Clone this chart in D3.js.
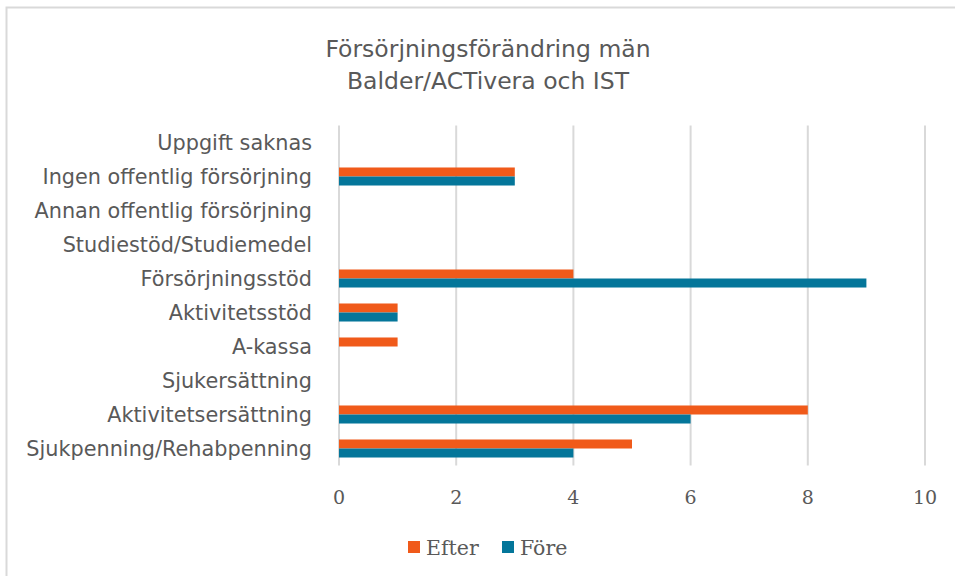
<!DOCTYPE html>
<html lang="sv">
<head>
    <meta charset="UTF-8">
    <title>Försörjningsförändring män</title>
    <script src="https://d3js.org/d3.v7.min.js"></script>
    <style>
        body { margin: 0; background: #fff; }
        .title { font-family: "DejaVu Sans", Verdana, sans-serif; font-size: 23.5px; fill: #595959; }
        .cat { font-family: "DejaVu Sans", Verdana, sans-serif; font-size: 20.8px; fill: #595959; }
        .tick-label { font-family: "DejaVu Serif", Georgia, serif; font-size: 19px; fill: #595959; }
        .legend text { font-family: "DejaVu Serif", Georgia, serif; font-size: 20.5px; fill: #595959; }
    </style>
</head>
<body>
<svg id="chart" width="955" height="576"></svg>
<script>
    const categories = [
        "Uppgift saknas",
        "Ingen offentlig försörjning",
        "Annan offentlig försörjning",
        "Studiestöd/Studiemedel",
        "Försörjningsstöd",
        "Aktivitetsstöd",
        "A-kassa",
        "Sjukersättning",
        "Aktivitetsersättning",
        "Sjukpenning/Rehabpenning"
    ];
    const efter = [0, 3, 0, 0, 4, 1, 1, 0, 8, 5];
    const fore  = [0, 3, 0, 0, 9, 1, 0, 0, 6, 4];
    const seriesNames = ["Efter", "Före"];
    const seriesColors = ["#F05A1A", "#04769A"];
    const xTicks = [0, 2, 4, 6, 8, 10];
    const titleLines = ["Försörjningsförändring män", "Balder/ACTivera och IST"];

    const svg = d3.select("#chart");

    // outer frame (only left/top edges fall inside the picture)
    svg.append("rect")
        .attr("x", 6.5).attr("y", 7.5)
        .attr("width", 1000).attr("height", 1000)
        .attr("fill", "none").attr("stroke", "#d9d9d9").attr("stroke-width", 2);

    const plot = {left: 339, right: 925, top: 125.5, bottom: 465.5};

    const x = d3.scaleLinear().domain([0, 10]).range([plot.left, plot.right]);
    const y0 = d3.scaleBand().domain(categories).range([plot.top, plot.bottom])
        .paddingInner(0.47).paddingOuter(0.235);
    const y1 = d3.scaleBand().domain(seriesNames).range([0, y0.bandwidth()]);

    // title
    svg.selectAll(".title").data(titleLines).enter().append("text")
        .attr("class", "title")
        .attr("x", 488).attr("y", (d, i) => 57 + i * 32)
        .attr("text-anchor", "middle")
        .text(d => d);

    // gridlines
    svg.selectAll(".grid").data(xTicks).enter().append("line")
        .attr("class", "grid")
        .attr("x1", d => x(d)).attr("x2", d => x(d))
        .attr("y1", plot.top).attr("y2", plot.bottom)
        .attr("stroke", "#d9d9d9").attr("stroke-width", 2);

    // tick labels
    svg.selectAll(".tick-label").data(xTicks).enter().append("text")
        .attr("class", "tick-label")
        .attr("x", d => x(d)).attr("y", 504)
        .attr("text-anchor", "middle")
        .text(d => d);

    // category labels
    svg.selectAll(".cat").data(categories).enter().append("text")
        .attr("class", "cat")
        .attr("x", 312)
        .attr("y", d => y0(d) - y0.step() * 0.235 + y0.step() / 2)
        .attr("dy", "0.35em")
        .attr("text-anchor", "end")
        .text(d => d);

    // bars
    const rows = categories.map((c, i) => ({cat: c, values: [efter[i], fore[i]]}));
    const groups = svg.selectAll(".row").data(rows).enter().append("g")
        .attr("transform", d => `translate(0,${y0(d.cat)})`);
    groups.selectAll("rect")
        .data(d => d.values.map((v, j) => ({name: seriesNames[j], value: v, color: seriesColors[j]})))
        .enter().append("rect")
        .attr("x", x(0))
        .attr("y", d => y1(d.name))
        .attr("width", d => x(d.value) - x(0))
        .attr("height", y1.bandwidth())
        .attr("fill", d => d.color);

    // legend
    const legend = svg.append("g").attr("class", "legend");
    const legendX = [408, 502];
    seriesNames.forEach((name, i) => {
        legend.append("rect")
            .attr("x", legendX[i]).attr("y", 541)
            .attr("width", 12).attr("height", 12)
            .attr("fill", seriesColors[i]);
        legend.append("text")
            .attr("x", legendX[i] + 18).attr("y", 555)
            .text(name);
    });
</script>
</body>
</html>
